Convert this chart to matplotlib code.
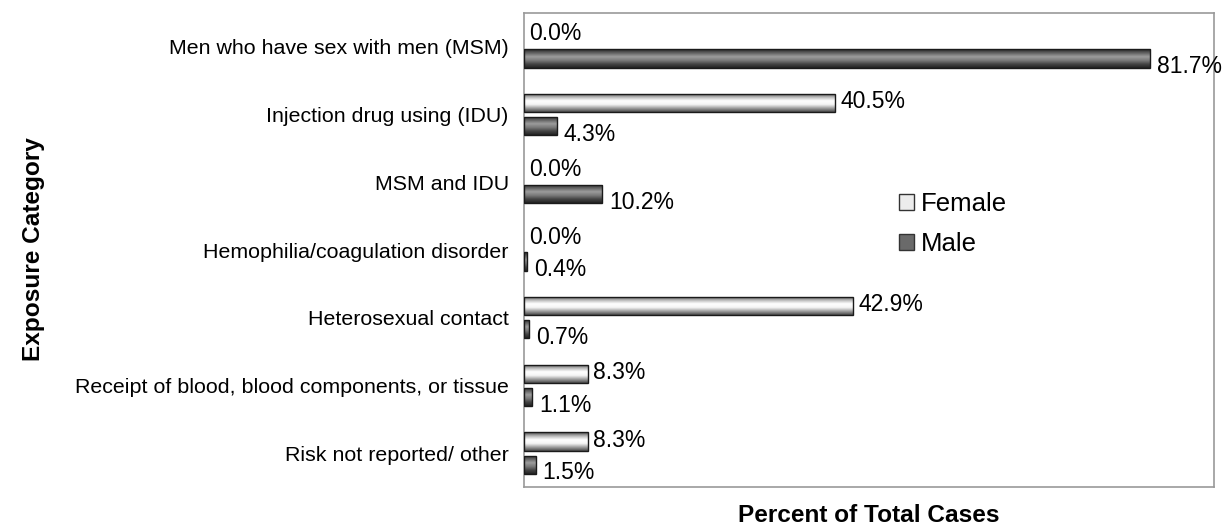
import numpy as np
import matplotlib
matplotlib.use("Agg")
import matplotlib.pyplot as plt
from matplotlib.colors import LinearSegmentedColormap
from matplotlib.patches import Patch

plt.rcParams['font.family'] = ['Liberation Sans', 'DejaVu Sans']

# Data
categories = [
    "Men who have sex with men (MSM)",
    "Injection drug using (IDU)",
    "MSM and IDU",
    "Hemophilia/coagulation disorder",
    "Heterosexual contact",
    "Receipt of blood, blood components, or tissue",
    "Risk not reported/ other",
]
female = [0.0, 40.5, 0.0, 0.0, 42.9, 8.3, 8.3]
male = [81.7, 4.3, 10.2, 0.4, 0.7, 1.1, 1.5]

# cylinder-like shading for the bars
female_cmap = LinearSegmentedColormap.from_list(
    "fem", ["#4a4a4a", "#b5b5b5", "#ffffff", "#f6f6f6", "#a0a0a0", "#4a4a4a"])
male_cmap = LinearSegmentedColormap.from_list(
    "mal", ["#262626", "#626262", "#9c9c9c", "#7a7a7a", "#444444", "#222222"])
grad = np.linspace(0, 1, 64).reshape(-1, 1)


def shade(ax, bars, cmap):
    for b in bars:
        x0, y0 = b.get_x(), b.get_y()
        w, h = b.get_width(), b.get_height()
        if w <= 0:
            b.set_linewidth(0)
            continue
        im = ax.imshow(grad, cmap=cmap, aspect='auto', interpolation='bilinear',
                       extent=(x0, x0 + w, y0 + h, y0), zorder=2)
        im.set_clip_path(b)


fig = plt.figure(figsize=(12.25, 5.29), dpi=100)
ax = fig.add_axes([0.4278, 0.0794, 0.5632, 0.896])

y = np.arange(len(categories))
off = 0.17
bh = 0.27
fb = ax.barh(y - off, female, height=bh, facecolor='none', edgecolor='#1a1a1a',
             linewidth=1.0, zorder=3)
mb = ax.barh(y + off, male, height=bh, facecolor='none', edgecolor='#1a1a1a',
             linewidth=1.0, zorder=3)
shade(ax, fb, female_cmap)
shade(ax, mb, male_cmap)

for yi, v in zip(y, female):
    ax.annotate(f"{v:.1f}%", (v, yi - off), xytext=(4, 1), textcoords='offset points',
                ha='left', va='center', fontsize=16.5)
for yi, v in zip(y, male):
    ax.annotate(f"{v:.1f}%", (v, yi + off), xytext=(5, -6), textcoords='offset points',
                ha='left', va='center', fontsize=16.5)

ax.set_xlim(0, 90)
ax.set_ylim(len(categories) - 0.5, -0.5)
ax.set_xticks([])
ax.set_yticks(y)
ax.set_yticklabels(categories, fontsize=15.4)
ax.tick_params(axis='y', length=0, pad=11)
for s in ax.spines.values():
    s.set_color('#999999')
    s.set_linewidth(1.2)

ax.set_xlabel("Percent of Total Cases", fontsize=17.6, fontweight='bold', labelpad=12)
fig.text(0.027, 0.53, "Exposure Category", rotation=90, fontsize=17.6,
         fontweight='bold', ha='center', va='center')

handles = [Patch(facecolor='#ececec', edgecolor='#333333', label='Female'),
           Patch(facecolor='#6a6a6a', edgecolor='#333333', label='Male')]
ax.legend(handles=handles, loc='center left', bbox_to_anchor=(0.51, 0.555),
          frameon=False, fontsize=18.5, handlelength=0.6, handleheight=0.6,
          handletextpad=0.25, labelspacing=0.62)

fig.savefig("out.png", dpi=100)
